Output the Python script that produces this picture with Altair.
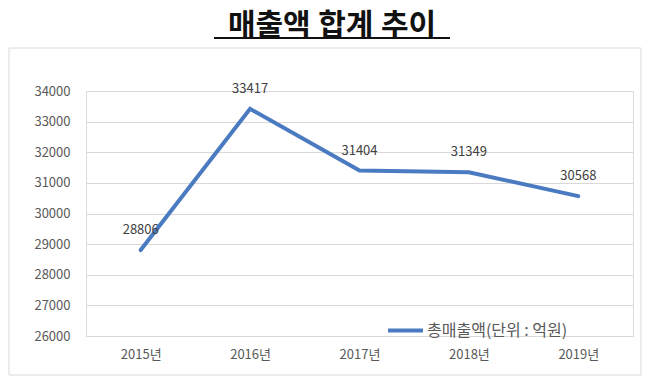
import altair as alt
import pandas as pd

years = ["2015년", "2016년", "2017년", "2018년", "2019년"]
sales = [28806, 33417, 31404, 31349, 30568]
series_name = "총매출액(단위 : 억원)"
y_ticks = [26000, 27000, 28000, 29000, 30000, 31000, 32000, 33000, 34000]
title_text = "매출액   합계  추이"

df = pd.DataFrame({"year": years, "sales": sales, "series": [series_name] * len(years)})

FONT = "Noto Sans CJK KR"
TITLE_FONT = "Liberation Serif, Noto Sans CJK KR"
LINE_COLOR = "#4a7bc1"

x = alt.X("year:N", sort=years, title=None,
          scale=alt.Scale(paddingInner=0, paddingOuter=0),
          axis=alt.Axis(labelAngle=0, ticks=False, domain=False, grid=False,
                        labelFont=FONT, labelFontSize=13, labelColor="#595959",
                        labelPadding=12))
y = alt.Y("sales:Q", title=None,
          scale=alt.Scale(domain=[26000, 34000], nice=False, zero=False),
          axis=alt.Axis(values=y_ticks, tickCount=len(y_ticks), format="d",
                        ticks=False, domain=False, labelOverlap=False,
                        grid=True, gridColor="#d9d9d9", gridWidth=1,
                        labelFont=FONT, labelFontSize=13, labelColor="#595959",
                        labelPadding=16))

base = alt.Chart(df)

line = base.mark_line(strokeWidth=4, strokeCap="round", strokeJoin="miter").encode(
    x=x, y=y,
    color=alt.Color("series:N",
                    scale=alt.Scale(range=[LINE_COLOR]),
                    legend=alt.Legend(title=None, orient="none", legendX=300, legendY=220,
                                      symbolType="stroke", symbolSize=1225,
                                      symbolStrokeWidth=4, labelFont=FONT,
                                      labelFontSize=16, labelColor="#595959",
                                      labelOffset=2, padding=0))
)

labels = base.mark_text(dy=-20, font=FONT, fontSize=13, color="#404040").encode(
    x=alt.X("year:N", sort=years), y="sales:Q", text="sales:Q"
)

title = alt.Chart(pd.DataFrame({"t": [title_text]})).mark_text(
    font=TITLE_FONT, fontSize=30, fontWeight="bold", color="#111111",
    align="center", baseline="alphabetic"
).encode(x=alt.value(246), y=alt.value(-56), text="t:N")

underline = alt.Chart(pd.DataFrame({"a": [0]})).mark_rule(
    color="#111111", strokeWidth=2
).encode(x=alt.value(128), x2=alt.value(364), y=alt.value(-53))

border = alt.Chart(pd.DataFrame({"a": [0]})).mark_rect(
    fill=None, stroke="#d9d9d9", strokeWidth=1
).encode(x=alt.value(-77), x2=alt.value(555), y=alt.value(-43), y2=alt.value(284))

chart = alt.layer(border, line, labels, title, underline).properties(
    width=547, height=245,
    autosize=alt.AutoSizeParams(type="none"),
    padding={"left": 78, "top": 83, "right": 10, "bottom": 42},
).configure_view(stroke=None).configure(background="white")

chart.save("out.html", embed_options={"renderer": "svg", "actions": False})
